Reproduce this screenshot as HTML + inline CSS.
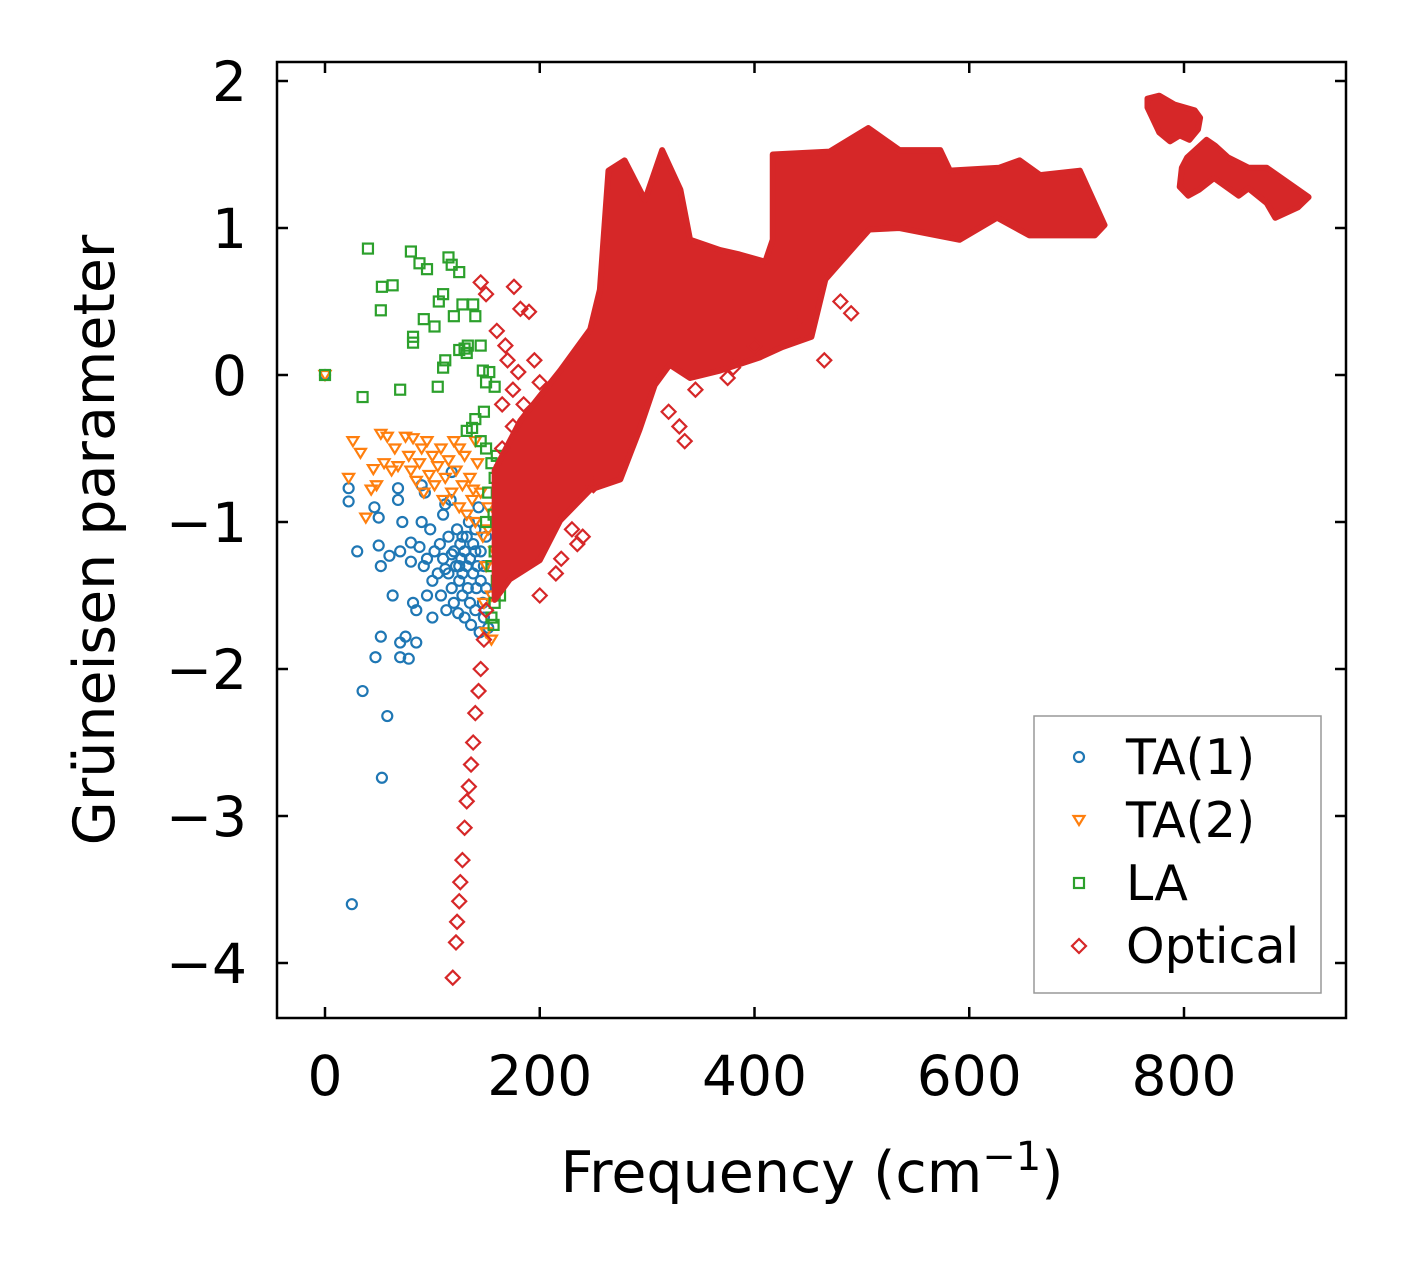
<!DOCTYPE html>
<html><head><meta charset="utf-8"><style>
body{margin:0;background:#fff}
svg text{font-family:"DejaVu Sans","Liberation Sans",sans-serif;fill:#000}
</style></head><body>
<svg id="chart" width="1406" height="1266" xmlns="http://www.w3.org/2000/svg">
<rect width="1406" height="1266" fill="#fff"/>
<g id="marks"></g>
<g id="axes"></g>
<text x="812" y="1192" font-size="57" text-anchor="middle">Frequency (cm<tspan dy="-22" font-size="40">−1</tspan><tspan dy="22">)</tspan></text>
<text transform="translate(114,540) rotate(-90)" font-size="57" text-anchor="middle">Grüneisen parameter</text>
<g>
<rect x="1034" y="716" width="287" height="277" fill="#fff" stroke="#999" stroke-width="1.5"/>
<g id="legend-items"></g>
</g>
</svg>
<script>
const xTicks=[0,200,400,600,800];
const yTicks=[-4,-3,-2,-1,0,1,2];
const seriesNames=["TA(1)","TA(2)","LA","Optical"];
const ta1Freq=[0,22,22,30,35,25,46,47,50,50,52,52,53,58,60,63,68,68,70,70,70,72,75,78,80,80,82,85,85,88,90,90,92,93,95,95,98,100,100,102,105,107,108,110,110,112,113,115,115,117,118,118,120,120,122,123,124,125,126,127,128,128,130,130,132,132,133,134,135,135,136,138,138,140,140,140,141,142,143,144,145,145,147,148,148,150,150,152,125,118,112,128];
const ta1Gamma=[0,-0.77,-0.86,-1.2,-2.15,-3.6,-0.9,-1.92,-1.16,-0.97,-1.3,-1.78,-2.74,-2.32,-1.23,-1.5,-0.77,-0.85,-1.2,-1.82,-1.92,-1.0,-1.78,-1.93,-1.14,-1.27,-1.55,-1.82,-1.6,-1.17,-0.75,-1.0,-1.3,-0.8,-1.25,-1.5,-1.05,-1.4,-1.65,-1.2,-1.35,-1.15,-1.5,-0.95,-1.25,-0.88,-1.6,-1.1,-1.35,-0.85,-1.45,-0.66,-1.2,-1.55,-1.3,-1.05,-1.62,-1.4,-1.15,-1.25,-1.5,-1.35,-1.2,-1.65,-1.1,-1.3,-1.45,-1.0,-1.25,-1.55,-1.7,-1.15,-1.35,-1.2,-1.05,-1.6,-1.45,-1.3,-0.9,-1.75,-1.4,-1.2,-1.55,-1.3,-1.65,-1.1,-1.45,-1.72,-1.3,-1.22,-1.32,-1.1];
const ta2Freq=[0,22,26,33,38,43,45,48,52,55,58,62,65,68,75,78,80,82,85,88,90,92,95,97,100,102,105,108,110,112,115,118,120,122,125,128,130,132,135,137,140,142,145,147,150,152,155,158,150,148,155,140,125,138,152,160];
const ta2Gamma=[0,-0.7,-0.45,-0.53,-0.97,-0.78,-0.64,-0.75,-0.4,-0.6,-0.42,-0.65,-0.5,-0.62,-0.42,-0.55,-0.65,-0.43,-0.72,-0.6,-0.5,-0.8,-0.45,-0.68,-0.55,-0.75,-0.62,-0.5,-0.85,-0.7,-0.58,-0.8,-0.45,-0.65,-0.9,-0.75,-0.55,-0.95,-0.7,-0.85,-1.0,-0.6,-0.8,-1.1,-1.3,-0.9,-1.5,-1.2,-1.75,-1.55,-1.8,-0.45,-0.5,-0.78,-1.05,-0.95];
const laFreq=[0,40,35,52,53,63,70,80,82,82,88,92,95,102,105,106,110,110,112,115,118,120,125,125,128,130,132,133,138,140,140,145,147,148,150,153,158,132,137,145,150,155,158,160,162,160,163,158,162,160,158,155,163,165,160,165,157,165,163,155,152,150,157];
const laGamma=[0,0.86,-0.15,0.44,0.6,0.61,-0.1,0.84,0.22,0.26,0.76,0.38,0.72,0.33,-0.08,0.5,0.55,0.05,0.1,0.8,0.75,0.4,0.7,0.17,0.48,0.18,0.15,0.2,0.48,0.4,-0.3,0.2,0.03,-0.25,-0.05,0.02,-0.08,-0.38,-0.36,-0.45,-0.5,-0.6,-0.7,-0.8,-0.9,-1.0,-1.1,-1.2,-1.3,-1.4,-1.55,-1.65,-0.65,-0.75,-0.55,-1.05,-0.95,-1.2,-1.5,-1.3,-0.8,-1.0,-1.7];
const optFreq=[150,148,145,143,140,138,136,134,132,130,128,126,125,123,122,119,145,150,160,168,176,182,190,170,180,175,165,185,195,200,165,175,320,330,335,345,220,215,200,240,235,230,380,400,440,465,480,490,445,470,250,375];
const optGamma=[-1.6,-1.8,-2.0,-2.15,-2.3,-2.5,-2.65,-2.8,-2.9,-3.08,-3.3,-3.45,-3.58,-3.72,-3.86,-4.1,0.63,0.55,0.3,0.2,0.6,0.45,0.43,0.1,0.02,-0.1,-0.2,-0.2,0.1,-0.05,-0.5,-0.35,-0.25,-0.35,-0.45,-0.1,-1.25,-1.35,-1.5,-1.1,-1.15,-1.05,0.05,0.2,0.35,0.1,0.5,0.42,0.3,0.85,-0.75,-0.02];
const denseMainFreq=[158,158,182,219,247,256,264,279,298,314,331,340,368,386,410,417,417,470,506,535,573,582,628,647,666,703,726,717,656,626,591,535,507,496,466,453,426,405,368,340,321,307,293,275,247,219,200,172];
const denseMainGamma=[-1.53,-0.65,-0.31,0.03,0.31,0.58,1.39,1.46,1.19,1.53,1.26,0.92,0.85,0.82,0.77,0.92,1.5,1.52,1.68,1.53,1.53,1.39,1.41,1.46,1.36,1.39,1.02,0.95,0.95,1.07,0.92,1.0,0.99,0.9,0.65,0.26,0.19,0.12,0.03,-0.02,0.07,-0.07,-0.37,-0.71,-0.78,-0.99,-1.26,-1.39];
const denseIsland1Freq=[766,777,791,810,815,813,805,796,787,777,766];
const denseIsland1Gamma=[1.88,1.9,1.84,1.8,1.75,1.67,1.6,1.63,1.59,1.65,1.82];
const denseIsland2Freq=[798,803,821,829,841,860,877,916,906,885,877,860,851,828,814,804,796];
const denseIsland2Gamma=[1.41,1.48,1.6,1.56,1.48,1.41,1.41,1.21,1.14,1.07,1.17,1.27,1.22,1.34,1.26,1.22,1.28];

const L=277,R=1346,T=62,B=1018;
const sx=v=>325+v*1.07375;
const sy=v=>375-v*147;
const NS="http://www.w3.org/2000/svg";
const marks=document.getElementById('marks');
const colors=["#1f77b4","#ff7f0e","#2ca02c","#d62728"];
function mk(tag,attrs,parent){const e=document.createElementNS(NS,tag);for(const k in attrs)e.setAttribute(k,attrs[k]);parent.appendChild(e);return e;}
function marker(type,cx,cy,c,parent){
  let e;
  if(type===0)e=mk('circle',{cx:cx,cy:cy,r:5,fill:'none',stroke:c,'stroke-width':2.2},parent);
  else if(type===1)e=mk('polygon',{points:`${cx-5.5},${cy-4} ${cx+5.5},${cy-4} ${cx},${cy+5}`,fill:'none',stroke:c,'stroke-width':2.2},parent);
  else if(type===2)e=mk('rect',{x:cx-5,y:cy-5,width:10,height:10,fill:'none',stroke:c,'stroke-width':2.2},parent);
  else e=mk('polygon',{points:`${cx},${cy-7} ${cx+7},${cy} ${cx},${cy+7} ${cx-7},${cy}`,fill:'none',stroke:c,'stroke-width':2.2},parent);
  return e;
}
function dense(fx,gy,name){
  const pts=fx.map((f,i)=>sx(f)+','+sy(gy[i])).join(' ');
  const p=mk('polygon',{points:pts,fill:'#d62728',stroke:'#d62728','stroke-width':6,'stroke-linejoin':'round'},marks);
  
  
}
const sets=[[ta1Freq,ta1Gamma],[ta2Freq,ta2Gamma],[laFreq,laGamma]];
sets.forEach((s,k)=>{
  const g=mk('g',{},marks);
  
  
  s[0].forEach((f,i)=>{const e=marker(k,sx(f),sy(s[1][i]),colors[k],g);
    
    });
});
dense(denseMainFreq,denseMainGamma,'optical-dense-main');
dense(denseIsland1Freq,denseIsland1Gamma,'optical-dense-island-1');
dense(denseIsland2Freq,denseIsland2Gamma,'optical-dense-island-2');
const og=mk('g',{},marks);


optFreq.forEach((f,i)=>{const e=marker(3,sx(f),sy(optGamma[i]),colors[3],og);
  
  });

const ax=document.getElementById('axes');
const fr=mk('rect',{x:L,y:T,width:R-L,height:B-T,fill:'none',stroke:'#000','stroke-width':2.5},ax);


xTicks.forEach(v=>{const x=sx(v);
  mk('line',{x1:x,y1:B,x2:x,y2:B-11,stroke:'#000','stroke-width':2.5},ax);
  mk('line',{x1:x,y1:T,x2:x,y2:T+11,stroke:'#000','stroke-width':2.5},ax);
  const t=mk('text',{x:x,y:1095,'font-size':55,'text-anchor':'middle'},ax);t.textContent=v;
  
  });
yTicks.forEach(v=>{const y=sy(v);
  mk('line',{x1:L,y1:y,x2:L+11,y2:y,stroke:'#000','stroke-width':2.5},ax);
  mk('line',{x1:R,y1:y,x2:R-11,y2:y,stroke:'#000','stroke-width':2.5},ax);
  const t=mk('text',{x:247,y:y+20,'font-size':55,'text-anchor':'end'},ax);t.textContent=v<0?'−'+(-v):v;
  
  });
const li=document.getElementById('legend-items');
seriesNames.forEach((n,k)=>{const y=757+k*63;
  const g=mk('g',{},li);
  
  
  marker(k,1079,y,colors[k],g);
  const t=mk('text',{x:1126,y:y+17,'font-size':49},g);t.textContent=n;});
</script>
</body></html>
